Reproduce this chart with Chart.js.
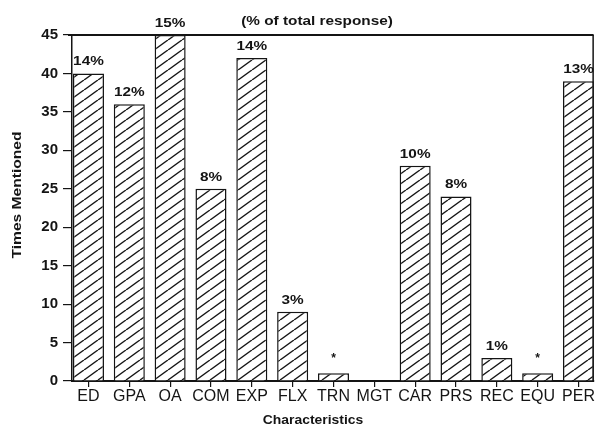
<!DOCTYPE html>
<html>
<head>
<meta charset="utf-8">
<script src="https://cdn.jsdelivr.net/npm/chart.js@4/dist/chart.umd.min.js"></script>
<style>
  html, body { margin: 0; padding: 0; background: #ffffff; }
  #wrap { width: 595px; height: 427px; }
</style>
</head>
<body>
<div id="wrap"><canvas id="c" width="595" height="427"></canvas></div>
<script>
const categories = ['ED', 'GPA', 'OA', 'COM', 'EXP', 'FLX', 'TRN', 'MGT', 'CAR', 'PRS', 'REC', 'EQU', 'PER'];
const timesMentioned = [40, 36, 45, 25, 42, 9, 1, 0, 28, 24, 3, 1, 39];
const percentLabels = ['14%', '12%', '15%', '8%', '14%', '3%', '*', '', '10%', '8%', '1%', '*', '13%'];
const yTicks = [0, 5, 10, 15, 20, 25, 30, 35, 40, 45];
const yTitle = 'Times Mentioned';
const xTitle = 'Characteristics';
const topNote = '(% of total response)';

const INK = '#141414';
const FAM = '"Liberation Sans", Arial, sans-serif';

function makeHatch() {
  const w = 14, h = 10;
  const p = document.createElement('canvas');
  p.width = w; p.height = h;
  const g = p.getContext('2d');
  g.fillStyle = '#ffffff';
  g.fillRect(0, 0, w, h);
  g.strokeStyle = INK;
  g.lineWidth = 1.4;
  for (const dx of [-w, 0, w]) {
    g.beginPath();
    g.moveTo(dx, h);
    g.lineTo(dx + w, 0);
    g.stroke();
  }
  return document.getElementById('c').getContext('2d').createPattern(p, 'repeat');
}

// draw text with slight horizontal widening to mimic the wide bold face of the original
function wideText(ctx, txt, x, y, sx) {
  ctx.save();
  ctx.translate(x, y);
  ctx.scale(sx, 1);
  ctx.fillText(txt, 0, 0);
  ctx.restore();
}

const annotatePlugin = {
  id: 'annotate',
  afterDatasetsDraw(chart) {
    const ctx = chart.ctx;
    const area = chart.chartArea;
    const meta = chart.getDatasetMeta(0);
    ctx.save();
    ctx.strokeStyle = INK;
    ctx.lineWidth = 2;
    ctx.beginPath();
    ctx.moveTo(area.left - 4, area.top);
    ctx.lineTo(area.right, area.top);
    ctx.stroke();
    ctx.lineWidth = 1.5;
    ctx.beginPath();
    ctx.moveTo(area.right - 0.5, area.top);
    ctx.lineTo(area.right - 0.5, area.bottom);
    ctx.stroke();

    ctx.fillStyle = INK;
    ctx.textAlign = 'center';
    ctx.textBaseline = 'alphabetic';
    meta.data.forEach((bar, i) => {
      const txt = percentLabels[i];
      if (!txt) return;
      if (txt === '*') {
        ctx.font = 'bold 12px ' + FAM;
        ctx.fillText(txt, bar.x, bar.y - 11);
      } else {
        ctx.font = 'bold 13px ' + FAM;
        wideText(ctx, txt, bar.x, bar.y - 8, 1.18);
      }
    });

    ctx.textBaseline = 'middle';
    ctx.font = 'bold 13px ' + FAM;
    wideText(ctx, topNote, 317, 21, 1.18);

    ctx.font = 'bold 13px ' + FAM;
    wideText(ctx, xTitle, 313, 420, 1.07);

    ctx.translate(17, 195);
    ctx.rotate(-Math.PI / 2);
    ctx.font = 'bold 13px ' + FAM;
    wideText(ctx, yTitle, 0, 0, 1.2);
    ctx.restore();
  }
};

const hatch = makeHatch();

new Chart(document.getElementById('c'), {
  type: 'bar',
  data: {
    datasets: [{
      data: timesMentioned.map((v, i) => ({ x: i, y: v })),
      backgroundColor: hatch,
      borderColor: INK,
      borderWidth: 1.5,
      borderSkipped: 'bottom',
      barPercentage: 0.76,
      categoryPercentage: 1
    }]
  },
  options: {
    responsive: false,
    animation: false,
    devicePixelRatio: 1,
    layout: { padding: { top: 35, right: 1, left: 0, bottom: 0 } },
    plugins: { legend: { display: false }, tooltip: { enabled: false }, title: { display: false } },
    scales: {
      x: {
        type: 'linear',
        offset: false,
        min: -0.403,
        max: 12.37,
        afterFit(scale) { scale.height = 46; },
        afterBuildTicks(scale) {
          scale.ticks = categories.map((c, i) => ({ value: i }));
        },
        ticks: {
          stepSize: 1,
          includeBounds: false,
          autoSkip: false,
          maxRotation: 0,
          padding: 0,
          color: INK,
          font: { family: FAM, size: 16 },
          callback: (v) => categories[v] ?? ''
        },
        grid: { display: true, offset: false, drawOnChartArea: false, drawTicks: true, tickLength: 6, color: INK, lineWidth: 1.2 },
        border: { display: true, color: INK, width: 2 }
      },
      y: {
        min: 0,
        max: 45,
        afterFit(scale) { scale.width = 72; },
        afterBuildTicks(scale) {
          scale.ticks = yTicks.map(v => ({ value: v }));
        },
        ticks: {
          stepSize: 5,
          padding: 5,
          color: INK,
          font: { family: FAM, size: 15, weight: 'bold' }
        },
        grid: { display: true, drawOnChartArea: false, drawTicks: true, tickLength: 9, color: INK, lineWidth: 1.2 },
        border: { display: true, color: INK, width: 1.5 }
      }
    }
  },
  plugins: [annotatePlugin]
});
</script>
</body>
</html>
